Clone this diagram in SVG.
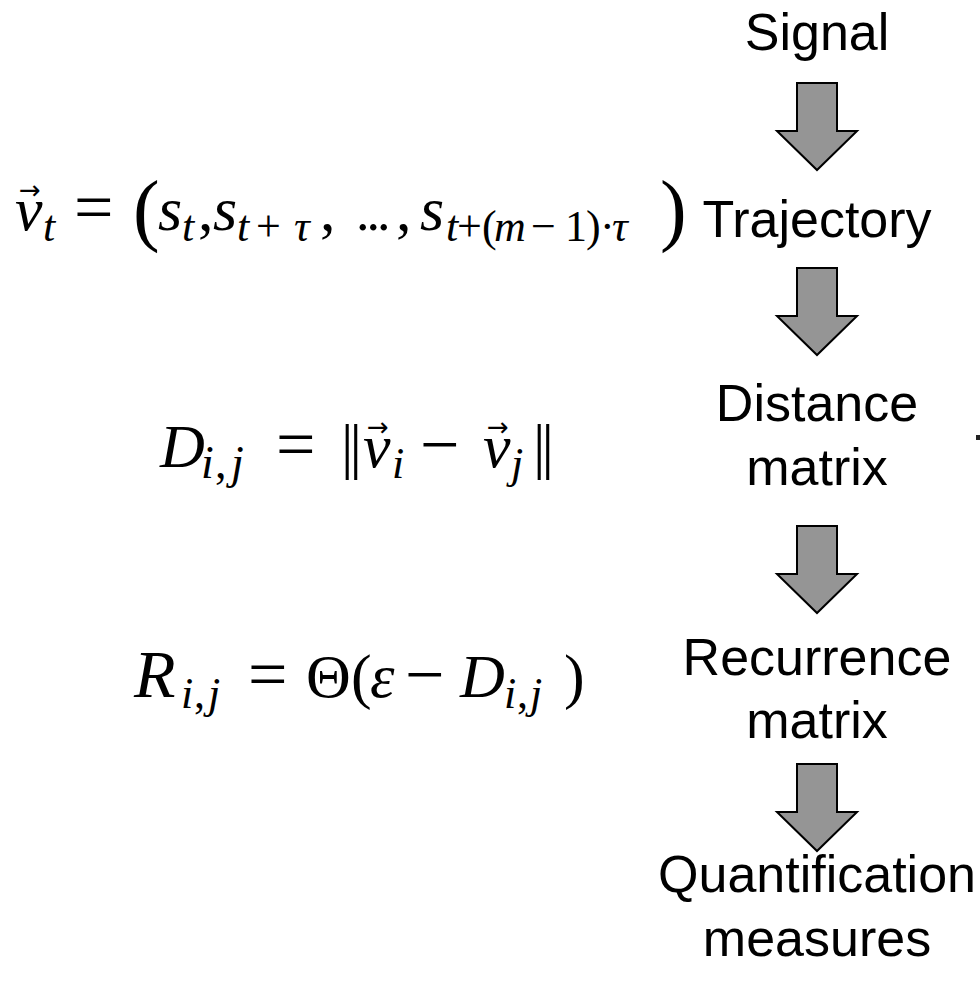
<svg xmlns="http://www.w3.org/2000/svg" width="980" height="982" viewBox="0 0 980 982">
<style>
.lbl{font-family:"Liberation Sans",Arial,sans-serif;font-size:52px;fill:#000;text-anchor:middle}
.m{font-family:"Liberation Serif","DejaVu Serif",serif;font-size:62px;fill:#000}
.i{font-style:italic}
.s{font-size:44px}
.op{font-size:70px}
.vec{font-family:"DejaVu Sans",sans-serif;font-size:26px;fill:#000}
.arr{fill:#959595;stroke:#000;stroke-width:2;stroke-linejoin:miter}
</style>
<defs>
<path id="dn" d="M-20,0 H20 V48 H40 L0,87 L-40,48 H-20 Z"/>
</defs>
<rect width="980" height="982" fill="#fff"/>
<g id="connectors">
<use href="#dn" class="arr" x="817" y="83"/>
<use href="#dn" class="arr" x="817" y="268"/>
<use href="#dn" class="arr" x="817" y="526"/>
<use href="#dn" class="arr" x="817" y="764"/>
</g>
<g id="node-signal"><text class="lbl" x="817" y="50">Signal</text></g>
<g id="node-trajectory"><text class="lbl" x="817" y="237">Trajectory</text></g>
<g id="node-distance"><text class="lbl" x="817" y="421">Distance</text><text class="lbl" x="817" y="485">matrix</text></g>
<g id="node-recurrence"><text class="lbl" x="817" y="675">Recurrence</text><text class="lbl" x="817" y="738">matrix</text></g>
<g id="node-quantification"><text class="lbl" x="817" y="892">Quantification</text><text class="lbl" x="817" y="956">measures</text></g>
<g id="formula-trajectory">
<text class="vec" x="19" y="199">→</text>
<text class="m"><tspan class="i" x="15" y="230">v</tspan><tspan class="i s" x="43" y="241">t</tspan><tspan class="op" x="74" y="231">=</tspan><tspan x="133" y="236" style="font-size:80px">(</tspan><tspan class="i" x="158" y="230">s</tspan><tspan class="i s" x="182" y="241">t</tspan><tspan x="198" y="230">,</tspan><tspan class="i" x="213" y="230">s</tspan><tspan class="i s" x="237" y="241">t</tspan><tspan class="s" x="256" y="241">+</tspan><tspan class="i s" x="294" y="241">τ</tspan><tspan x="320" y="230">,</tspan><tspan x="356" y="230" style="font-size:54px" letter-spacing="-3">...</tspan><tspan x="396" y="230">,</tspan><tspan class="i" x="420" y="230">s</tspan><tspan class="i s" x="446" y="241">t</tspan><tspan class="s" x="457" y="241">+</tspan><tspan class="s" x="482" y="241">(</tspan><tspan class="i s" x="494" y="241">m</tspan><tspan class="s" x="531" y="241">−</tspan><tspan class="s" x="565" y="241">1</tspan><tspan class="s" x="586" y="241">)</tspan><tspan class="s" x="600" y="241">·</tspan><tspan class="i s" x="612" y="241">τ</tspan><tspan x="660" y="236" style="font-size:80px">)</tspan></text>
</g>
<g id="formula-distance">
<text class="vec" x="367" y="436">→</text>
<text class="vec" x="487" y="436">→</text>
<text class="m"><tspan class="i" x="160" y="467">D</tspan><tspan class="i s" x="201" y="478" style="font-size:46px">i</tspan><tspan class="s" x="215" y="478" style="font-size:46px">,</tspan><tspan class="i s" x="231" y="478" style="font-size:46px">j</tspan><tspan class="op" x="276" y="468">=</tspan><tspan x="341" y="467" letter-spacing="-4">||</tspan><tspan class="i" x="363" y="467">v</tspan><tspan class="i s" x="392" y="478">i</tspan><tspan class="op" x="420" y="468">−</tspan><tspan class="i" x="483" y="467">v</tspan><tspan class="i s" x="511" y="478">j</tspan><tspan x="533" y="467" letter-spacing="-4">||</tspan></text>
</g>
<g id="formula-recurrence">
<text class="m"><tspan class="i" x="134" y="697" style="font-size:68px">R</tspan><tspan class="i s" x="181" y="708">i</tspan><tspan class="s" x="194" y="708">,</tspan><tspan class="i s" x="208" y="708">j</tspan><tspan class="op" x="248" y="698">=</tspan><tspan x="306" y="697">Θ</tspan><tspan x="351" y="697">(</tspan><tspan class="i" x="370" y="697">ε</tspan><tspan class="op" x="405" y="698">−</tspan><tspan class="i" x="460" y="697">D</tspan><tspan class="i s" x="504" y="708">i</tspan><tspan class="s" x="517" y="708">,</tspan><tspan class="i s" x="530" y="708">j</tspan><tspan x="564" y="697">)</tspan></text>
</g>
<rect x="976" y="435" width="4" height="5" fill="#222"/>
</svg>
